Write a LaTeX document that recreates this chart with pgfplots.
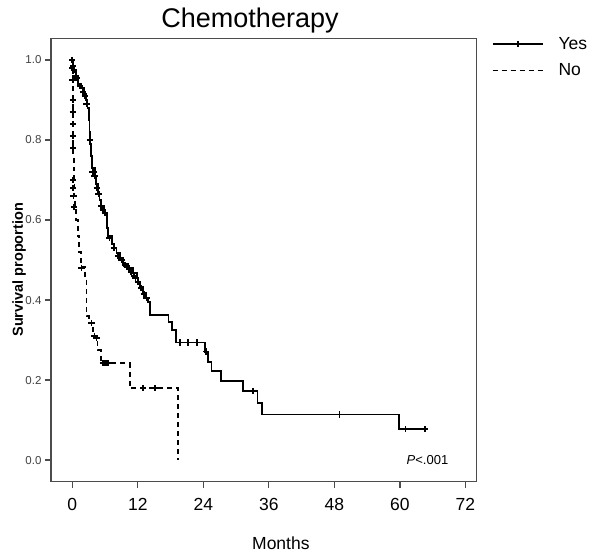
\documentclass[border=0pt]{standalone}
\usepackage{pgfplots}
\pgfplotsset{compat=1.18}
\usepackage{fontspec}
\setmainfont{Liberation Sans}
\begin{document}
\begin{tikzpicture}
\path[use as bounding box] (0,0) rectangle (600bp,557bp);
\begin{axis}[
  at={(51bp,75.3bp)}, anchor=south west,
  width=425.7bp, height=443.3bp, scale only axis,
  xmin=-3.9, xmax=74.06, ymin=-0.054, ymax=1.054,
  xtick={0,12,24,36,48,60,72}, ytick={0,0.2,0.4,0.6,0.8,1.0},
  xtick pos=lower, ytick pos=left,
  tick align=outside, major tick length=6bp,
  tick style={black!70, line width=1.2bp},
  axis line style={black!70, line width=1.3bp},
  /pgf/number format/assume math mode=true,
  yticklabel style={font=\fontsize{11.5bp}{13bp}\selectfont, text=black!75,
    /pgf/number format/.cd, fixed, fixed zerofill, precision=1},
  xticklabel style={font=\fontsize{17.5bp}{20bp}\selectfont, yshift=-7bp},
  every axis title/.style={},
  title={Chemotherapy},
  title style={font=\fontsize{27bp}{30bp}\selectfont, at={(axis description cs:0.4675,1)}, anchor=base, yshift=11bp},
  xlabel={Months},
  xlabel style={font=\fontsize{17.5bp}{20bp}\selectfont, at={(axis description cs:0.54,-0.138)}, anchor=center},
  ylabel={Survival proportion},
  ylabel style={font=\bfseries\fontsize{14.5bp}{16bp}\selectfont, at={(axis description cs:-0.075,0.478)}, anchor=center},
  legend style={at={(axis description cs:1.035,1.003)}, anchor=north west, draw=none, fill=none,
    font=\fontsize{17.5bp}{20bp}\selectfont, row sep=13bp, inner sep=0pt,
    nodes={inner sep=0pt},
    /tikz/every odd column/.append style={column sep=15bp}},
  legend cell align=left,
  legend image code/.code={\draw[#1, mark repeat=2, mark phase=2] plot coordinates {(0bp,0bp) (25bp,0bp) (50bp,0bp)};},
]
\addlegendimage{black, line width=1.8bp, mark=+, mark size=3.2bp}
\addlegendentry{Yes}
\addlegendimage{black, line width=1.8bp, dash pattern=on 5bp off 4bp}
\addlegendentry{No}

% Yes: step function
\addplot[const plot, black, line width=1.8bp, forget plot] coordinates {
(0,1.0)(0.15,0.985)(0.4,0.97)(0.7,0.955)(1.1,0.94)(1.6,0.93)(2.1,0.915)(2.5,0.90)(2.8,0.88)
(3.0,0.85)(3.15,0.82)(3.3,0.79)(3.45,0.76)(3.55,0.73)(4.1,0.71)(4.4,0.69)(4.7,0.67)(5.0,0.65)
(5.3,0.635)(5.9,0.617)(6.3,0.60)(6.4,0.58)(6.6,0.56)(7.2,0.54)(7.7,0.53)(8.1,0.517)(8.7,0.505)
(9.3,0.49)(10.2,0.48)(11.1,0.467)(11.8,0.454)(12.1,0.443)(12.4,0.433)(13.0,0.417)(13.5,0.405)
(13.9,0.396)(14.2,0.3625)(17.6,0.346)(18.3,0.325)(19.0,0.294)(24.3,0.271)(24.9,0.246)(25.5,0.2225)
(27.2,0.1975)(31.2,0.1725)(33.9,0.143)(34.8,0.114)(59.8,0.077)(64.6,0.077)};
% Yes: censored
\addplot[only marks, mark=+, mark size=3.2bp, line width=1.6bp, black, forget plot] coordinates {
(0,1.0)(0.15,0.985)(0.3,0.975)(0.6,0.96)(0.8,0.955)(1.4,0.935)(2.0,0.92)(2.3,0.91)(2.6,0.89)
(3.2,0.80)(3.7,0.72)(3.9,0.72)(4.1,0.71)(4.5,0.68)(4.8,0.665)(5.3,0.635)(5.6,0.625)(5.95,0.617)
(6.8,0.555)(7.6,0.53)(8.4,0.51)(9.0,0.5)(9.6,0.487)(9.9,0.485)(10.4,0.478)(10.8,0.47)(11.3,0.46)
(11.6,0.455)(12.0,0.445)(12.6,0.43)(13.1,0.415)(13.6,0.405)(19.7,0.294)(21.2,0.294)(22.8,0.294)
(24.5,0.271)(33.1,0.1725)(48.9,0.114)(61.0,0.077)(64.6,0.077)};

% No: step function
\addplot[const plot, black, line width=1.8bp, dash pattern=on 5bp off 4bp, forget plot] coordinates {
(0,1.0)(0.05,0.97)(0.08,0.94)(0.1,0.91)(0.12,0.88)(0.14,0.85)(0.16,0.82)(0.18,0.79)(0.2,0.76)
(0.25,0.73)(0.3,0.70)(0.4,0.66)(0.5,0.63)(0.7,0.60)(1.0,0.56)(1.3,0.52)(1.6,0.483)(2.3,0.454)
(2.6,0.36)(3.0,0.342)(3.8,0.31)(4.6,0.275)(5.2,0.242)(10.5,0.18)(19.4,0.0)};
% No: censored
\addplot[only marks, mark=+, mark size=3.2bp, line width=1.6bp, black, forget plot] coordinates {
(0,0.98)(0.05,0.95)(0.1,0.90)(0.1,0.87)(0.12,0.84)(0.14,0.81)(0.16,0.78)(0.15,0.70)(0.15,0.68)
(0.2,0.66)(0.3,0.633)(1.7,0.48)(3.5,0.342)(4.1,0.31)(4.4,0.305)(5.6,0.242)(5.9,0.242)(6.2,0.242)
(6.5,0.242)(13.0,0.18)(15.1,0.18)};

\node[anchor=east, font=\fontsize{13bp}{15bp}\selectfont] at (axis cs:69.5,0) {\textit{P}<.001};
\end{axis}
\end{tikzpicture}
\end{document}
